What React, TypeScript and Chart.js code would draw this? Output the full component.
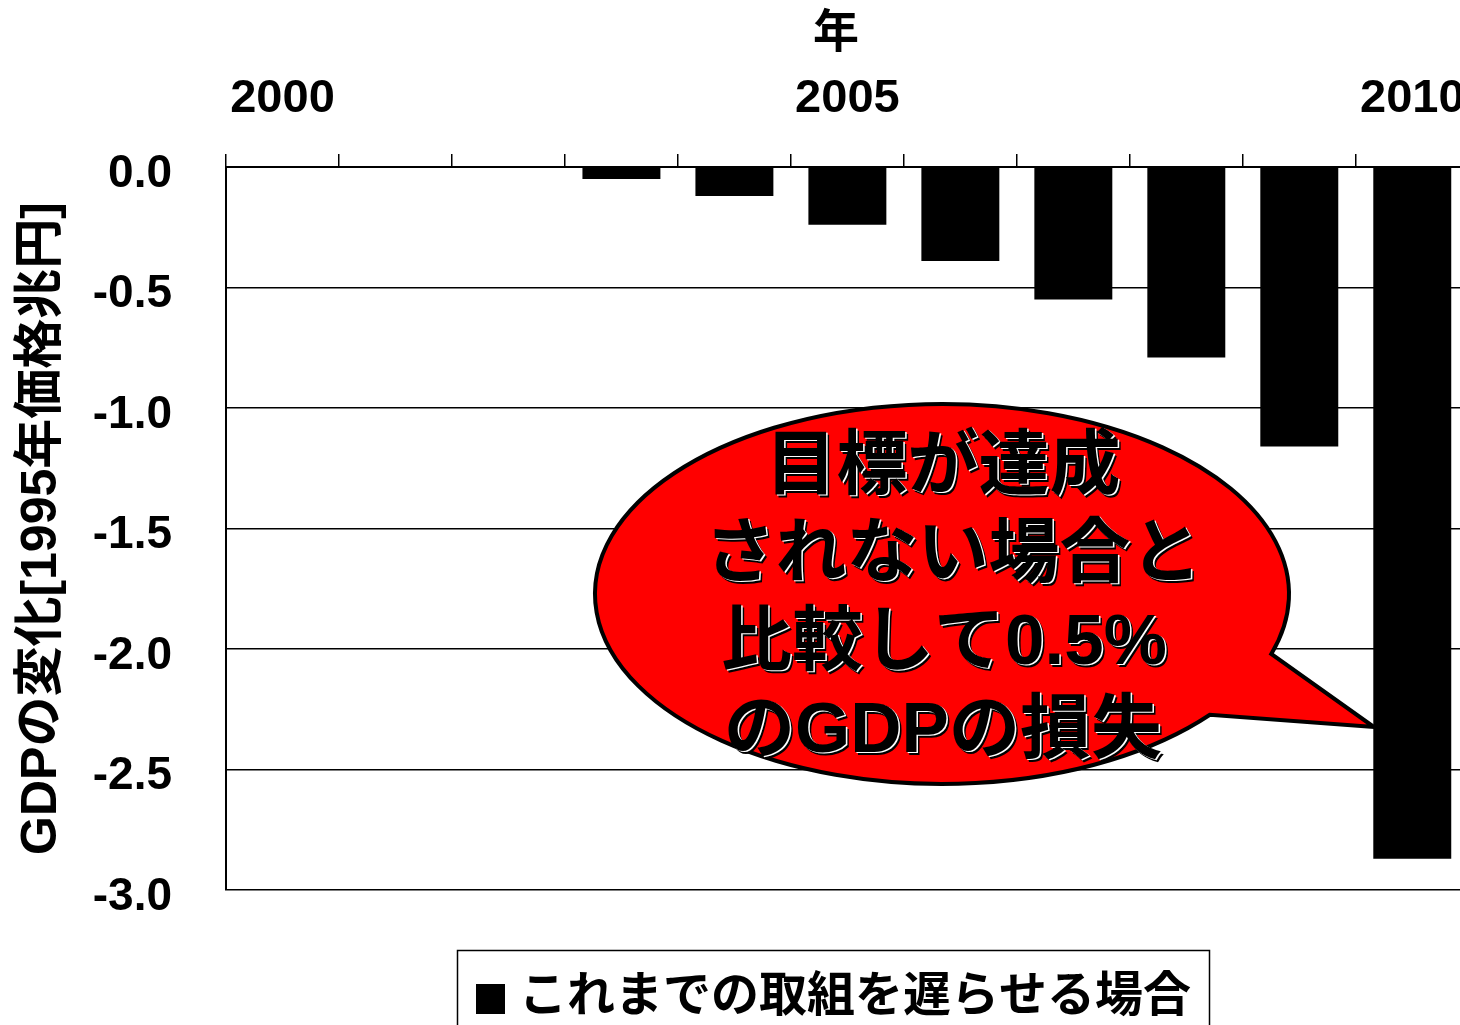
import React, { useEffect, useRef } from "react";
import { Chart, registerables } from "chart.js";

Chart.register(...registerables);

const years = ["2000", "2001", "2002", "2003", "2004", "2005", "2006", "2007", "2008", "2009", "2010"];
const gdpChange = [0, 0, 0, -0.05, -0.12, -0.24, -0.39, -0.55, -0.79, -1.16, -2.87];
const shownYearLabels = ["2000", "2005", "2010"];
const seriesLabel = "これまでの取組を遅らせる場合";
const xTitle = "年";
const yTitle = "GDPの変化[1995年価格兆円]";
const calloutLines = ["目標が達成", "されない場合と", "比較して0.5%", "のGDPの損失"];

const FONT = '"Liberation Sans", Arial, "Noto Sans CJK JP", sans-serif';

const calloutPlugin = {
  id: "callout",
  afterDatasetsDraw(chart: any) {
    const ctx = chart.ctx;
    const cx = 942, cy = 594, rx = 347, ry = 190;
    ctx.save();
    const a1 = Math.atan2((655 - cy) / ry, (1277 - cx) / rx);
    const a2 = Math.atan2((713 - cy) / ry, (1206 - cx) / rx);
    ctx.beginPath();
    ctx.ellipse(cx, cy, rx, ry, 0, a2, a1 + Math.PI * 2, false);
    ctx.lineTo(1374, 727);
    ctx.closePath();
    ctx.fillStyle = "#ff0000";
    ctx.fill();
    ctx.lineWidth = 4;
    ctx.strokeStyle = "#000";
    ctx.lineJoin = "miter";
    ctx.stroke();

    ctx.font = `bold 71px ${FONT}`;
    ctx.textAlign = "center";
    ctx.textBaseline = "middle";
    const centers = [943, 953, 944, 943];
    calloutLines.forEach((line, i) => {
      const y = 468 + i * 88;
      const x = centers[i];
      ctx.fillStyle = "#000";
      ctx.fillText(line, x + 3, y + 3);
      ctx.fillStyle = "#fff";
      ctx.fillText(line, x + 1.5, y + 1.5);
      ctx.fillStyle = "#000";
      ctx.fillText(line, x, y);
    });
    ctx.restore();
  },
};

const legendPlugin = {
  id: "customLegend",
  afterDraw(chart: any) {
    const ctx = chart.ctx;
    const ds = chart.data.datasets[0];
    ctx.save();
    ctx.strokeStyle = "#000";
    ctx.lineWidth = 1.5;
    ctx.strokeRect(457.5, 950.5, 752, 120);
    ctx.fillStyle = ds.backgroundColor;
    ctx.fillRect(476, 984, 29, 30);
    ctx.font = `bold 48px ${FONT}`;
    ctx.textAlign = "left";
    ctx.textBaseline = "middle";
    ctx.fillStyle = "#000";
    ctx.fillText(ds.label, 519, 998);
    ctx.restore();
  },
};

export default function App() {
  const ref = useRef<HTMLCanvasElement | null>(null);
  useEffect(() => {
    document.body.style.margin = "0";
    const canvas = ref.current!;
    const chart = new Chart(canvas, {
      type: "bar",
      data: {
        labels: years,
        datasets: [
          {
            label: seriesLabel,
            data: gdpChange,
            backgroundColor: "#000000",
            borderWidth: 0,
            barPercentage: 0.69,
            categoryPercentage: 1,
          },
        ],
      },
      options: {
        responsive: false,
        animation: false,
        devicePixelRatio: 1,
        layout: { padding: { left: 0, top: 0, right: 10, bottom: 135 } },
        plugins: {
          legend: { display: false },
          tooltip: { enabled: false },
        },
        scales: {
          x: {
            position: "top",
            offset: true,
            afterFit: (s: any) => {
              s.height = 167;
            },
            grid: {
              offset: true,
              drawOnChartArea: false,
              drawTicks: true,
              tickLength: 13,
              color: "#000",
              lineWidth: 1.5,
            },
            border: { display: true, color: "#000", width: 2 },
            ticks: {
              autoSkip: false,
              maxRotation: 0,
              minRotation: 0,
              padding: 27,
              color: "#000",
              font: { family: FONT, size: 47, weight: "bold" },
              callback: (_v: any, i: number) => (shownYearLabels.includes(years[i]) ? years[i] : ""),
            },
            title: {
              display: true,
              text: xTitle + "\u2002",
              color: "#000",
              font: { family: FONT, size: 46, weight: "bold" },
              padding: { top: 7, bottom: 0 },
            },
          },
          y: {
            min: -3,
            max: 0,
            afterFit: (s: any) => {
              s.width = 226;
            },
            grid: {
              drawTicks: false,
              color: "#000",
              lineWidth: 1.5,
            },
            border: { display: true, color: "#000", width: 2 },
            ticks: {
              stepSize: 0.5,
              padding: 54,
              labelOffset: 7,
              color: "#000",
              font: { family: FONT, size: 46, weight: "bold" },
              callback: (v: any) => Number(v).toFixed(1),
            },
            title: {
              display: true,
              text: yTitle,
              color: "#000",
              font: { family: FONT, size: 50, weight: "bold" },
              padding: { top: 12, bottom: 0 },
            },
          },
        },
      },
      plugins: [calloutPlugin, legendPlugin],
    });
    return () => chart.destroy();
  }, []);

  return (
    <div style={{ width: 1460, height: 1025, overflow: "hidden", position: "relative" }}>
      <canvas ref={ref} width={1492} height={1025} style={{ display: "block", width: 1492, height: 1025 }} />
    </div>
  );
}
